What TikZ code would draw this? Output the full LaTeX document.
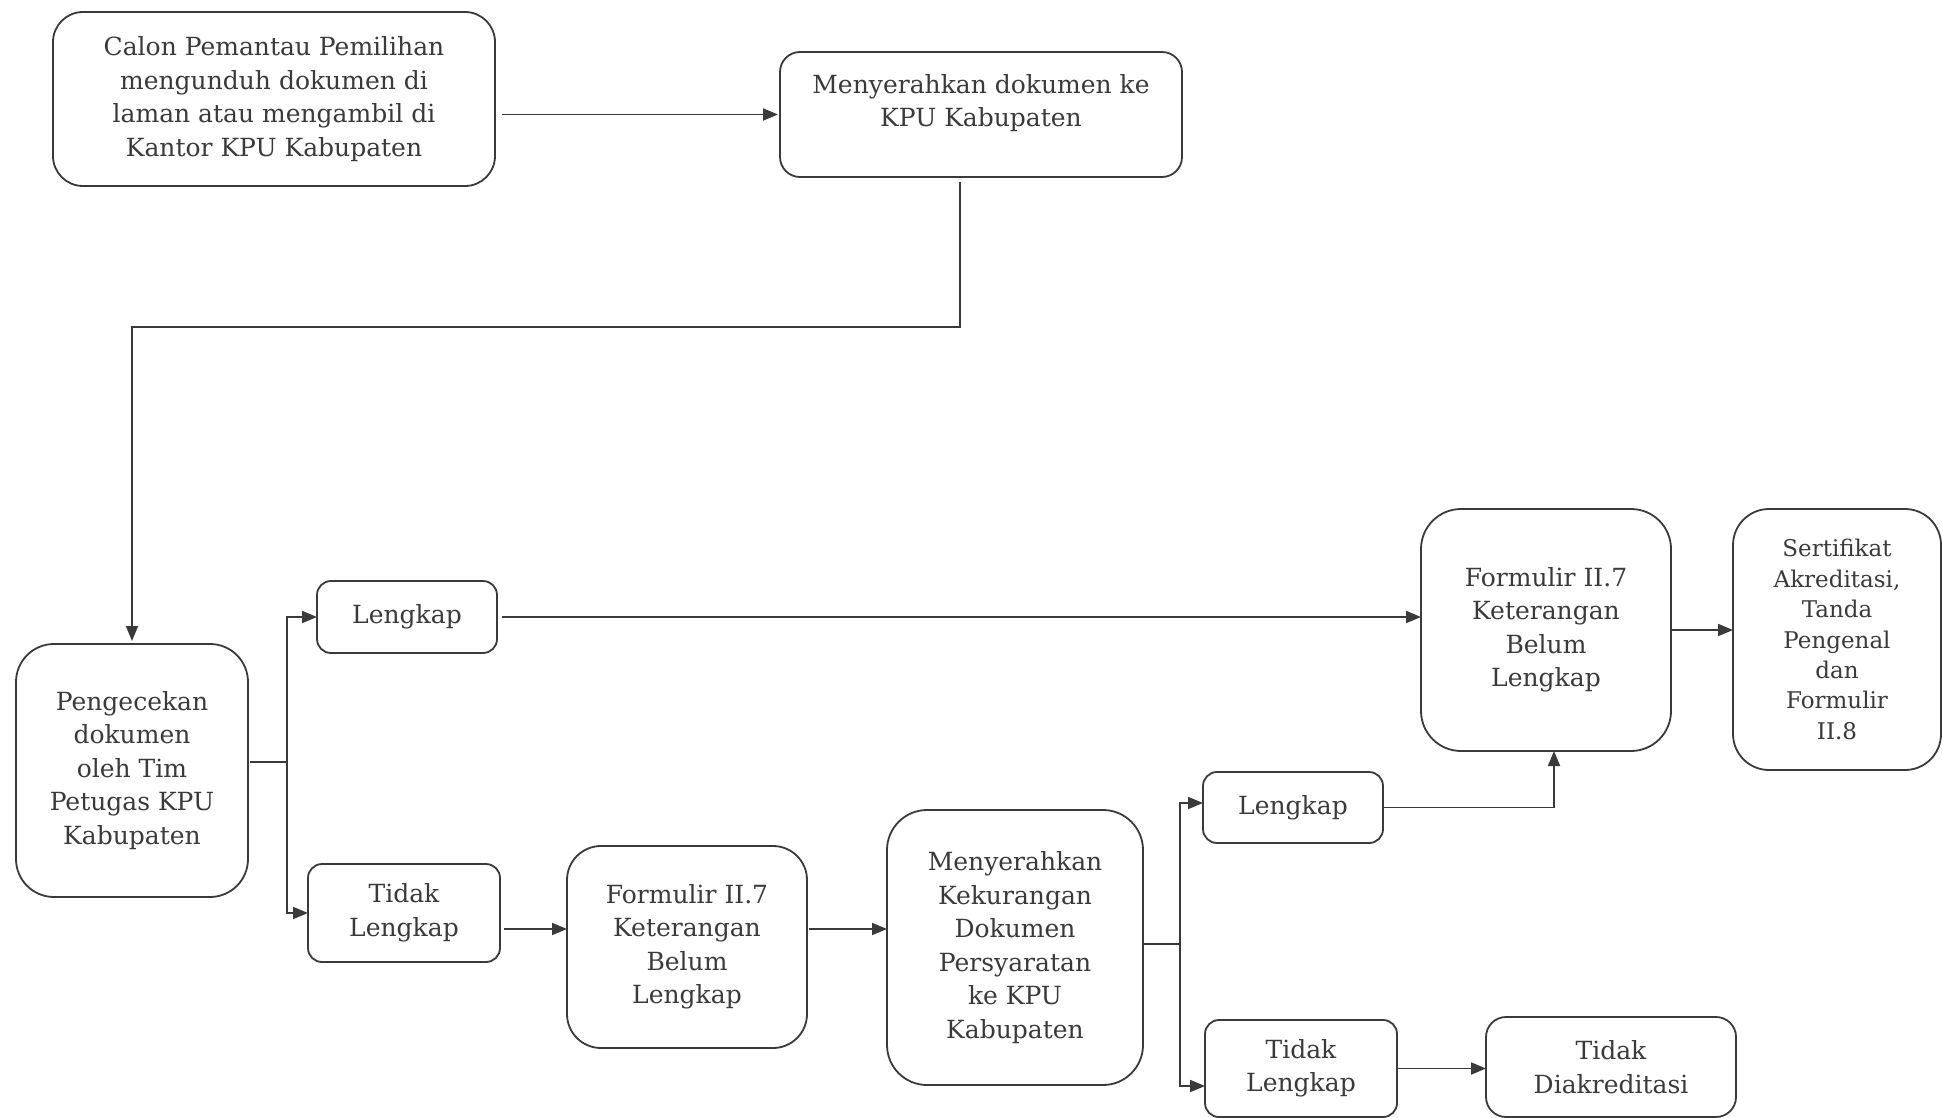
\documentclass[tikz,border=0pt]{standalone}
\usepackage{fontspec}
\setmainfont{DejaVu Serif}
\usetikzlibrary{arrows.meta}
\definecolor{ink}{HTML}{3A3A3A}
\begin{document}
\begin{tikzpicture}[x=1pt,y=-1pt,
  box/.style={draw=ink, line width=1.8pt, align=center, inner sep=0pt, outer sep=0pt,
    anchor=north west, text=ink, font=\fontsize{25}{33.5}\selectfont},
  conn/.style={draw=ink, line width=1.8pt},
  arr/.style={conn, -{Triangle[length=15pt,width=12pt]}}]
\useasboundingbox (0,0) rectangle (1942,1118);
\fill[white] (0,0) rectangle (1942,1118);

\node[box, rounded corners=30pt, minimum width=442pt, minimum height=174pt] (calon) at (53,12)
  {Calon Pemantau Pemilihan\\mengunduh dokumen di\\laman atau mengambil di\\Kantor KPU Kabupaten};
\node[box, rounded corners=20pt, minimum width=402pt, minimum height=125pt] (serah) at (780,52)
  {Menyerahkan dokumen ke\\KPU Kabupaten\\[-6pt]};
\node[box, rounded corners=38pt, minimum width=232pt, minimum height=253pt] (cek) at (16,644)
  {Pengecekan\\dokumen\\oleh Tim\\Petugas KPU\\Kabupaten};
\node[box, rounded corners=14pt, minimum width=180pt, minimum height=72pt] (lk1) at (317,581)
  {Lengkap};
\node[box, rounded corners=14pt, minimum width=192pt, minimum height=98pt] (tl1) at (308,864)
  {Tidak\\Lengkap};
\node[box, rounded corners=40pt, minimum width=250pt, minimum height=242pt] (form1) at (1421,509)
  {Formulir II.7\\Keterangan\\Belum\\Lengkap};
\node[box, rounded corners=36pt, minimum width=208pt, minimum height=261pt,
  font=\fontsize{23}{30.4}\selectfont] (sert) at (1733,509)
  {Sertifikat\\Akreditasi,\\Tanda\\Pengenal\\dan\\Formulir\\II.8};
\node[box, rounded corners=34pt, minimum width=240pt, minimum height=202pt] (form2) at (567,846)
  {Formulir II.7\\Keterangan\\Belum\\Lengkap};
\node[box, rounded corners=40pt, minimum width=256pt, minimum height=275pt] (kurang) at (887,810)
  {Menyerahkan\\Kekurangan\\Dokumen\\Persyaratan\\ke KPU\\Kabupaten};
\node[box, rounded corners=14pt, minimum width=180pt, minimum height=71pt] (lk2) at (1203,772)
  {Lengkap};
\node[box, rounded corners=14pt, minimum width=192pt, minimum height=97pt] (tl2) at (1205,1020)
  {Tidak\\Lengkap};
\node[box, rounded corners=20pt, minimum width=250pt, minimum height=100pt] (diak) at (1486,1017)
  {Tidak\\Diakreditasi};

\coordinate (j1) at (960,327);
\coordinate (b1) at (287,762);
\coordinate (b2) at (1180,944);
\coordinate (r1) at (0,929);
\coordinate (r3) at (0,803);
\coordinate (r4) at (0,1086);
\coordinate (v1) at (1554,0);

\draw[arr, shorten <=7pt, shorten >=2pt] (calon.east |- serah.west) -- (serah.west);
\draw[arr, shorten <=5pt, shorten >=3pt] (serah.south -| j1) -- (j1) -| (cek.north);
\draw[conn, shorten <=2pt] (cek.east |- b1) -- (b1);
\draw[arr] (b1) |- (lk1.west);
\draw[arr] (b1) |- (tl1.west);
\draw[arr, shorten <=5pt] (lk1.east) -- (lk1.east -| form1.west);
\draw[arr] (form1.east) -- (form1.east -| sert.west);
\draw[arr, shorten <=4pt] (tl1.east |- r1) -- (form2.west |- r1);
\draw[arr, shorten <=2pt] (form2.east |- r1) -- (kurang.west |- r1);
\draw[conn] (kurang.east |- b2) -- (b2);
\draw[arr] (b2) |- (lk2.west |- r3);
\draw[arr] (b2) |- (tl2.west |- r4);
\draw[arr] (lk2.east) -| (form1.south -| v1);
\draw[arr] (tl2.east) -- (tl2.east -| diak.west);
\end{tikzpicture}
\end{document}
